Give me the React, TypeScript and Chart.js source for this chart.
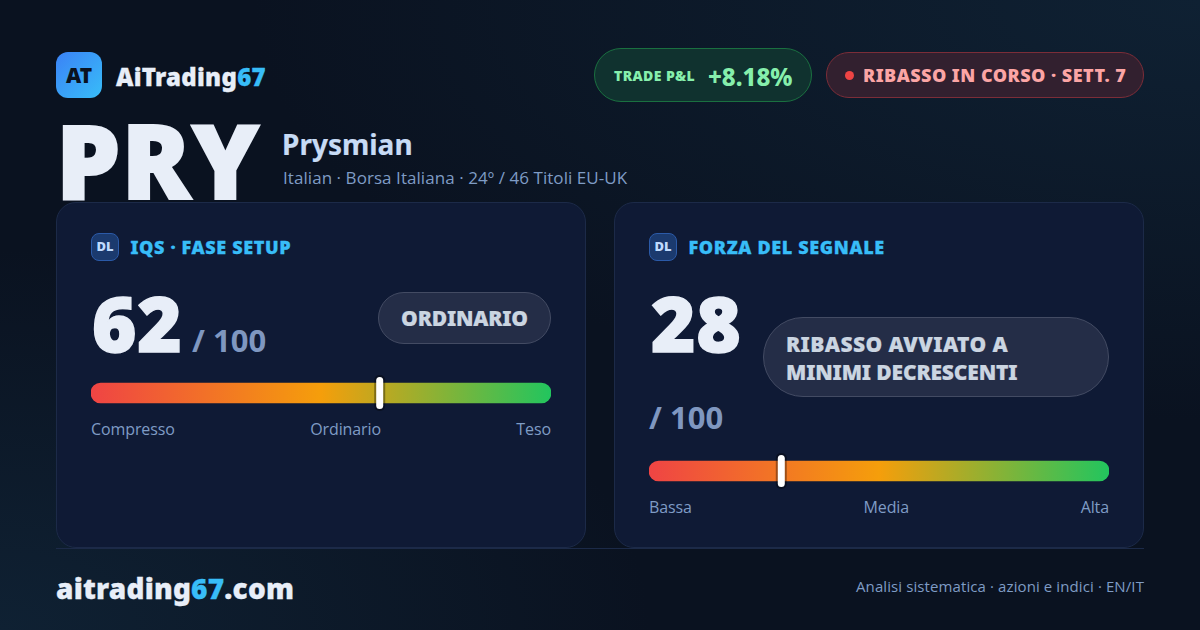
import { useEffect, useRef } from "react";
import type { CSSProperties } from "react";
import Chart from "chart.js/auto";

const HEAVY = '"Noto Sans", sans-serif';
const BODY = '"Open Sans", sans-serif';

const gaugeColors = ["#ef4444", "#f59e0b", "#22c55e"];
const gaugeTrack = [100];
const iqsValue = 62;
const iqsLabels = ["Compresso", "Ordinario", "Teso"];
const signalValue = 28;
const signalLabels = ["Bassa", "Media", "Alta"];

const markerPlugin = {
  id: "marker",
  afterDatasetsDraw(chart: any, _args: any, opts: any) {
    const { ctx, chartArea } = chart;
    const x = chart.scales.x.getPixelForValue(opts.value);
    const h = 32;
    const y = (chartArea.top + chartArea.bottom) / 2 - h / 2;
    ctx.save();
    ctx.fillStyle = "rgba(0,0,0,0.35)";
    ctx.beginPath();
    ctx.roundRect(x - 2, y - 2, 11, h + 4, 5);
    ctx.fill();
    ctx.fillStyle = "#ffffff";
    ctx.beginPath();
    ctx.roundRect(x, y, 7, h, 3.5);
    ctx.fill();
    ctx.restore();
  },
};

function Gauge({ value, style }: { value: number; style: CSSProperties }) {
  const chartRef = useRef<HTMLCanvasElement | null>(null);

  useEffect(() => {
    if (!chartRef.current) return;
    const chart = new Chart(chartRef.current, {
      type: "bar",
      data: {
        labels: [""],
        datasets: [
          {
            data: gaugeTrack,
            barThickness: 20,
            borderRadius: 10,
            borderSkipped: false,
            backgroundColor: (c: any) => {
              const area = c.chart.chartArea;
              if (!area) return gaugeColors[0];
              const g = c.chart.ctx.createLinearGradient(area.left, 0, area.right, 0);
              g.addColorStop(0, gaugeColors[0]);
              g.addColorStop(0.5, gaugeColors[1]);
              g.addColorStop(1, gaugeColors[2]);
              return g;
            },
          },
        ],
      },
      options: {
        indexAxis: "y",
        animation: false,
        responsive: false,
        devicePixelRatio: 1,
        layout: { padding: 0 },
        scales: {
          x: { display: false, min: 0, max: 100 },
          y: { display: false },
        },
        plugins: {
          legend: { display: false },
          tooltip: { enabled: false },
          marker: { value },
        },
      } as any,
      plugins: [markerPlugin],
    });
    return () => chart.destroy();
  }, [value]);

  return <canvas ref={chartRef} width={460} height={48} style={{ position: "absolute", ...style }} />;
}

const abs = (left: number, top: number, extra: CSSProperties = {}): CSSProperties => ({
  position: "absolute",
  left,
  top,
  whiteSpace: "nowrap",
  ...extra,
});

function GaugeLabels({ labels, left, top }: { labels: string[]; left: number; top: number }) {
  return (
    <div
      style={abs(left, top, {
        width: 460,
        display: "flex",
        justifyContent: "space-between",
        fontFamily: BODY,
        fontSize: 16,
        lineHeight: "22px",
        letterSpacing: -0.1,
        color: "#7f9cc5",
      })}
    >
      {labels.map((l) => (
        <span key={l}>{l}</span>
      ))}
    </div>
  );
}

function CardHead({ left, title }: { left: number; title: string }) {
  return (
    <>
      <div
        style={abs(left, 233, {
          width: 28,
          height: 28,
          boxSizing: "border-box",
          borderRadius: 8,
          background: "#1b3a6e",
          border: "1px solid #2b5aa8",
          color: "#bfdbfe",
          fontSize: 13,
          fontWeight: 900,
          lineHeight: "25px",
          textAlign: "center",
        })}
      >
        DL
      </div>
      <div
        style={abs(left + 39.5, 235, {
          fontSize: 18,
          fontWeight: 900,
          lineHeight: "24px",
          letterSpacing: 0.65,
          WebkitTextStroke: "0.3px",
          color: "#38bdf8",
        })}
      >
        {title}
      </div>
    </>
  );
}

const cardStyle: CSSProperties = {
  position: "absolute",
  top: 202,
  width: 530,
  height: 346,
  boxSizing: "border-box",
  borderRadius: 20,
  background: "#0f1a35",
  border: "1px solid #1c2a48",
};

const pillStyle: CSSProperties = {
  boxSizing: "border-box",
  background: "#242d47",
  border: "1px solid #434b63",
  color: "#cbd5e1",
  fontWeight: 900,
  fontSize: 21,
  WebkitTextStroke: "0.2px",
};

const scoreStyle: CSSProperties = {
  fontSize: 76,
  fontWeight: 900,
  lineHeight: "106px",
  letterSpacing: 0.8,
  WebkitTextStroke: "1.5px",
  color: "#e8eef8",
};

const outOfStyle: CSSProperties = {
  fontSize: 31,
  fontWeight: 700,
  lineHeight: "44px",
  color: "#7f97c0",
};

export default function App() {
  return (
    <div
      style={{
        position: "fixed",
        left: 0,
        top: 0,
        width: 1200,
        height: 630,
        overflow: "hidden",
        fontFamily: HEAVY,
        background:
          "radial-gradient(ellipse 950px 420px at 100% 0%, #0f2133 0%, rgba(15,33,51,0) 100%), radial-gradient(ellipse 650px 380px at 0% 100%, #0f2133 0%, rgba(15,33,51,0) 100%), #0a1220",
      }}
    >
      <div
        style={abs(56, 52, {
          width: 46,
          height: 46,
          borderRadius: 12,
          background: "linear-gradient(135deg, #3b82f6, #38bdf8)",
          color: "#0a1220",
          fontSize: 21,
          fontWeight: 900,
          lineHeight: "47px",
          textAlign: "center",
        })}
      >
        AT
      </div>
      <div
        style={abs(116, 59, {
          fontSize: 24,
          fontWeight: 900,
          lineHeight: "36px",
          letterSpacing: 0.27,
          WebkitTextStroke: "0.3px",
          color: "#e8eef8",
        })}
      >
        AiTrading<span style={{ color: "#38bdf8" }}>67</span>
      </div>

      <div
        style={abs(594, 48, {
          width: 218,
          height: 54,
          boxSizing: "border-box",
          borderRadius: 27,
          background: "#10322f",
          border: "1px solid #1a7040",
        })}
      />
      <div style={abs(614, 66, { fontSize: 14, fontWeight: 900, lineHeight: "20px", letterSpacing: 0.4, color: "#86efac" })}>
        TRADE P&amp;L
      </div>
      <div style={abs(708, 60, { fontSize: 24, fontWeight: 800, lineHeight: "34px", color: "#86efac" })}>+8.18%</div>

      <div
        style={abs(826, 52, {
          width: 318,
          height: 46,
          boxSizing: "border-box",
          borderRadius: 23,
          background: "#32202f",
          border: "1px solid #7c2d38",
        })}
      />
      <div style={abs(845, 71, { width: 9, height: 9, borderRadius: "50%", background: "#ef4444" })} />
      <div style={abs(863, 62, { fontSize: 18, fontWeight: 900, lineHeight: "26px", letterSpacing: 0.47, color: "#fca5a5" })}>
        RIBASSO IN CORSO · SETT. 7
      </div>

      <div
        style={abs(56, 110, {
          fontSize: 102,
          fontWeight: 900,
          lineHeight: "100px",
          letterSpacing: 1,
          WebkitTextStroke: "2px",
          color: "#e8eef8",
        })}
      >
        PRY
      </div>
      <div
        style={abs(282, 124, {
          fontSize: 28,
          fontWeight: 700,
          lineHeight: "40px",
          WebkitTextStroke: "0.2px",
          color: "#c7dbf5",
        })}
      >
        Prysmian
      </div>
      <div style={abs(283, 166, { fontFamily: BODY, fontSize: 17, lineHeight: "24px", letterSpacing: 0.06, color: "#7f9cc5" })}>
        Italian · Borsa Italiana · 24º / 46 Titoli EU-UK
      </div>

      <div style={{ ...cardStyle, left: 56 }} />
      <div style={{ ...cardStyle, left: 614 }} />

      <CardHead left={91} title="IQS · FASE SETUP" />
      <div style={abs(92, 270, scoreStyle)}>{iqsValue}</div>
      <div style={abs(192, 318, outOfStyle)}>/ 100</div>
      <div
        style={abs(378, 292, {
          ...pillStyle,
          width: 173,
          height: 52,
          borderRadius: 26,
          lineHeight: "51px",
          letterSpacing: -0.2,
          textAlign: "center",
        })}
      >
        ORDINARIO
      </div>
      <Gauge value={iqsValue} style={{ left: 91, top: 369 }} />
      <GaugeLabels labels={iqsLabels} left={91} top={418} />

      <CardHead left={649} title="FORZA DEL SEGNALE" />
      <div style={abs(651, 270, scoreStyle)}>{signalValue}</div>
      <div style={abs(649, 395, outOfStyle)}>/ 100</div>
      <div
        style={abs(763, 317, {
          ...pillStyle,
          width: 346,
          height: 80,
          borderRadius: 40,
          lineHeight: "28px",
          padding: "12px 22px",
          letterSpacing: -0.15,
        })}
      >
        <span style={{ letterSpacing: 0.4 }}>RIBASSO AVVIATO A</span>
        <br />
        MINIMI DECRESCENTI
      </div>
      <Gauge value={signalValue} style={{ left: 649, top: 447 }} />
      <GaugeLabels labels={signalLabels} left={649} top={496} />

      <div style={abs(56, 548, { width: 1088, height: 1, background: "#1c2a48" })} />
      <div
        style={abs(56, 569, {
          fontSize: 28,
          fontWeight: 900,
          lineHeight: "38px",
          letterSpacing: 0.2,
          WebkitTextStroke: "0.3px",
          color: "#e8eef8",
        })}
      >
        aitrading<span style={{ color: "#38bdf8" }}>67</span>.com
      </div>
      <div
        style={abs(844, 575, {
          width: 300,
          textAlign: "right",
          fontFamily: BODY,
          fontSize: 15,
          lineHeight: "22px",
          letterSpacing: 0.1,
          color: "#7f9cc5",
        })}
      >
        Analisi sistematica · azioni e indici · EN/IT
      </div>
    </div>
  );
}
